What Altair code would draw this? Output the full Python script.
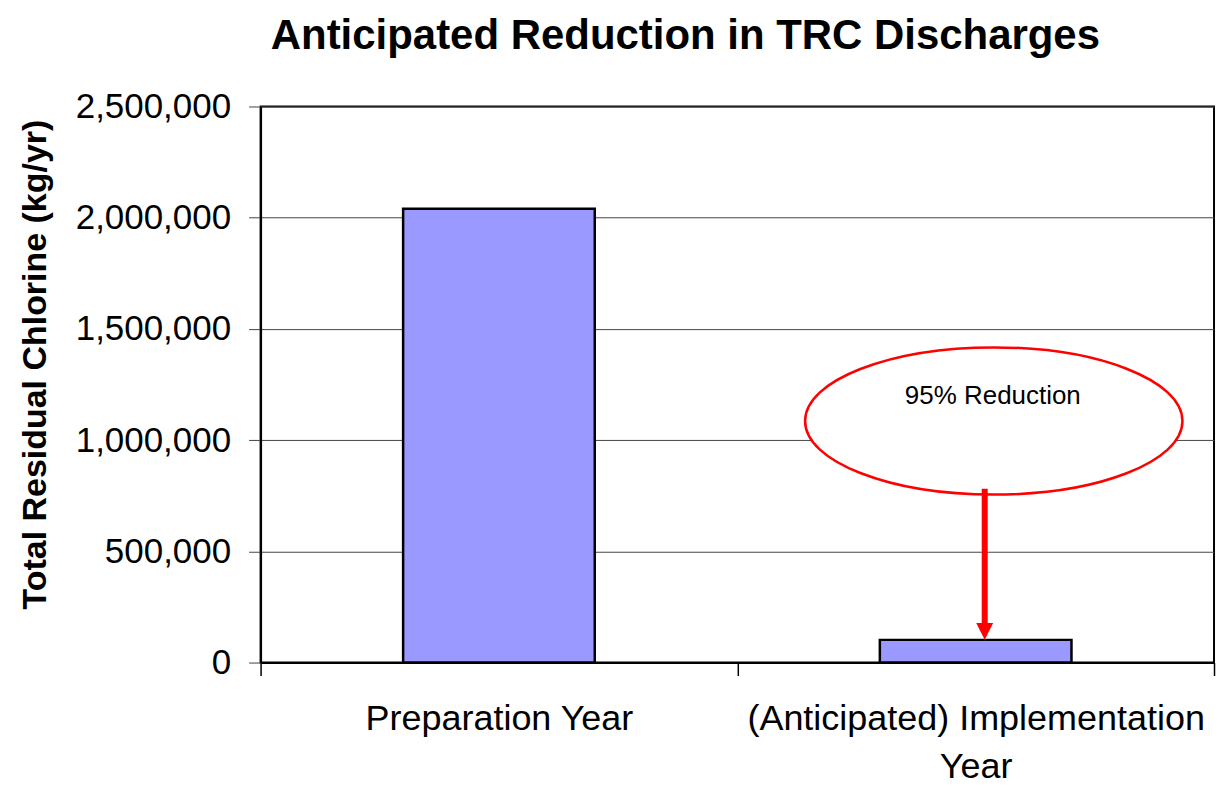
import altair as alt
import pandas as pd

categories = ["Preparation Year", "(Anticipated) Implementation Year"]
values = [2040000, 102000]

y_ticks = [0, 500000, 1000000, 1500000, 2000000, 2500000]

note_text = ["95% Reduction"]
note_category = ["(Anticipated) Implementation Year"]
note_value = [1198000]
ellipse_value = [1086000]
arrow_start = [781000]
arrow_end = [152000]
arrow_tip = [102000]

bars_df = pd.DataFrame({"category": categories, "value": values})
note_df = pd.DataFrame({
    "category": note_category,
    "text": note_text,
    "text_y": note_value,
    "ell_y": ellipse_value,
    "a0": arrow_start,
    "a1": arrow_end,
    "tip": arrow_tip,
})

FONT = "Liberation Sans"

x_scale = alt.Scale(domain=categories, paddingInner=0, paddingOuter=0)
y_scale = alt.Scale(domain=[0, 2500000], nice=False)

x_axis = alt.Axis(
    title=None,
    labelAngle=0,
    labelFontSize=36,
    labelFont=FONT,
    labelColor="black",
    labelPadding=26,
    labelLineHeight=48,
    labelLimit=0,
    labelExpr="datum.value == '(Anticipated) Implementation Year' ? ['(Anticipated) Implementation', 'Year'] : datum.value",
    tickBand="extent",
    tickSize=13,
    tickColor="black",
    tickWidth=1.5,
    domainColor="black",
    domainWidth=2,
    grid=False,
)

y_axis = alt.Axis(
    values=y_ticks,
    format=",.0f",
    title="Total Residual Chlorine (kg/yr)",
    titleFont=FONT,
    titleFontSize=34,
    titleFontWeight="bold",
    titleColor="black",
    titleX=-225,
    titleY=258,
    titleAngle=270,
    titleBaseline="middle",
    titleAlign="center",
    labelFont=FONT,
    labelFontSize=35,
    labelColor="black",
    labelPadding=18,
    tickSize=12,
    tickColor="#444",
    domainColor="black",
    domainWidth=2,
    gridColor="#444",
    gridWidth=1,
)


def xenc(bp=None):
    if bp is None:
        return alt.X("category:N", scale=x_scale, axis=x_axis, sort=categories)
    return alt.X("category:N", scale=x_scale, axis=x_axis, sort=categories, bandPosition=bp)


def yenc(field):
    return alt.Y(field, scale=y_scale, axis=y_axis)


bars = alt.Chart(bars_df).mark_bar(
    color="#9999FF", stroke="black", strokeWidth=2.5,
    width=alt.RelativeBandSize(0.402),
).encode(
    x=xenc(),
    y=yenc("value:Q"),
)

ellipse_path = "M -1 0 A 1 0.39 0 1 0 1 0 A 1 0.39 0 1 0 -1 0 Z"
ellipse = alt.Chart(note_df).mark_point(
    shape=ellipse_path, size=142884, filled=True, fill="white",
    stroke="#FF0000", strokeWidth=2.5, opacity=1
).encode(
    x=xenc(0.538),
    y=yenc("ell_y:Q"),
)

label = alt.Chart(note_df).mark_text(
    font=FONT, fontSize=26, color="black", baseline="middle", align="center"
).encode(
    x=xenc(0.536),
    y=yenc("text_y:Q"),
    text="text:N",
)

arrow = alt.Chart(note_df).mark_rule(color="#FF0000", strokeWidth=6).encode(
    x=xenc(0.519),
    y=yenc("a0:Q"),
    y2="a1:Q",
)

head = alt.Chart(note_df).mark_point(
    shape="M 0 0 L -0.5 -1 L 0.5 -1 Z", size=1156, filled=True,
    color="#FF0000", opacity=1, strokeWidth=0
).encode(
    x=xenc(0.519),
    y=yenc("tip:Q"),
)

chart = alt.layer(bars, ellipse, label, arrow, head).properties(
    width=955,
    height=557,
    background="white",
    padding={"left": 11, "top": 6, "right": 8, "bottom": 0},
    title=alt.TitleParams(
        text="Anticipated Reduction in TRC Discharges",
        font=FONT,
        fontSize=42,
        fontWeight="bold",
        color="black",
        anchor="middle",
        frame="group",
        dx=-52,
        offset=32,
    ),
).configure_view(stroke="black", strokeWidth=2)

chart.save("out.html", embed_options={"renderer": "svg", "actions": False})
